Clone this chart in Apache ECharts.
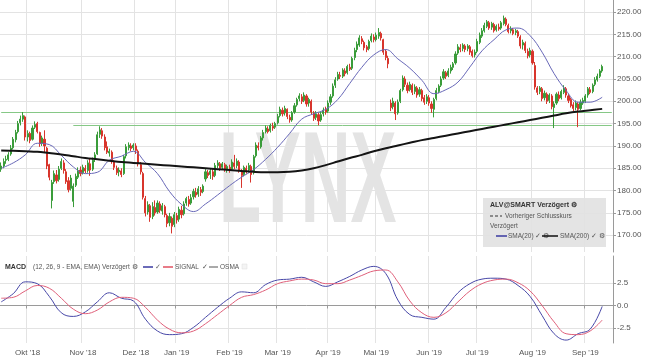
<!DOCTYPE html>
<html><head><meta charset="utf-8">
<script src="https://cdn.jsdelivr.net/npm/echarts@6/dist/echarts.min.js"></script>
<style>html,body{margin:0;padding:0;background:#fff}#c{width:645px;height:363px}</style>
</head><body><div id="c"></div>
<script>
// ---------- calendar ----------
const monthNames = ['Jan','Feb','Mar','Apr','Mai','Jun','Jul','Aug','Sep','Okt','Nov','Dez'];
const holidays = ['2018-12-24','2018-12-25','2018-12-26','2018-12-31','2019-01-01','2019-04-19','2019-04-22','2019-05-01'];
const firstDay = '2018-09-14';
const lastAxisDay = '2019-09-17';

// ---------- price data: [open, close, low, high] ----------
const sep18 = [[184.8,185.5,184.2,186.3],[185.5,186.5,185.0,187.2],[186.8,187.0,186.0,187.8],[187.0,188.0,186.6,188.6],[188.2,189.5,187.8,190.2],[189.6,191.5,189.2,192.0],[191.4,193.0,190.8,193.6],[193.2,195.0,192.8,195.6],[195.2,196.0,194.6,196.8],[196.0,196.8,195.4,197.6],[196.5,192.0,191.2,196.8]];
const okt18 = [[192.0,192.8,191.0,193.5],[192.8,191.2,190.6,193.2],[191.5,194.0,191.2,194.6],[194.2,194.8,193.8,195.5],[195.0,193.2,192.8,195.4],[193.0,190.5,189.8,193.2],[190.6,191.8,190.0,192.3],[191.5,190.0,188.4,193.5],[189.5,185.5,184.8,189.8],[185.8,183.0,182.3,186.0],[177.8,181.8,176.0,182.4],[182.0,183.8,181.5,184.5],[183.5,182.2,181.6,184.6],[182.5,184.8,182.0,185.5],[185.0,186.5,184.6,187.2],[186.2,184.5,183.8,186.8],[184.2,182.0,181.5,184.8],[182.2,180.2,179.6,183.0],[180.5,182.8,180.0,183.5],[177.6,181.0,176.3,181.6],[181.2,183.2,180.8,183.8],[183.0,184.5,182.6,185.2],[184.6,183.8,183.2,185.4]];
const nov18 = [[184.0,185.2,183.6,185.8],[185.0,184.4,183.9,185.7],[184.5,186.2,184.0,186.8],[186.0,184.6,183.3,187.2],[184.8,186.8,184.4,187.4],[187.0,188.0,186.4,188.6],[188.2,192.5,188.0,193.2],[192.6,193.6,191.8,194.4],[193.4,192.2,191.6,194.0],[192.0,189.6,189.0,192.6],[189.8,188.6,188.2,191.0],[188.4,188.8,187.6,189.4],[188.6,186.6,186.0,189.0],[186.4,185.2,184.6,186.8],[185.0,184.0,183.5,185.6],[184.2,184.6,183.2,185.2],[184.4,183.6,183.0,185.0],[183.8,187.6,183.5,188.0],[187.8,189.8,187.2,190.4],[189.6,190.2,189.0,190.8],[190.0,189.4,188.8,190.6],[189.6,190.2,189.0,190.6]];
const dez18 = [[190.0,189.0,188.2,190.6],[188.8,186.0,185.4,189.2],[185.8,184.2,183.6,186.4],[183.8,178.5,178.0,184.2],[178.2,175.0,174.2,178.8],[175.2,176.8,174.6,177.6],[176.6,174.0,173.0,177.0],[174.2,176.4,173.6,177.4],[176.2,175.0,174.4,177.8],[175.2,177.2,174.8,177.8],[177.0,175.6,175.0,177.6],[175.4,176.6,174.6,177.2],[176.4,174.6,174.0,176.8],[174.4,172.6,171.8,174.8],[172.8,174.2,172.0,175.0],[173.8,172.0,170.4,174.2],[172.4,174.6,171.8,175.2]];
const jan19 = [[174.4,173.4,172.6,175.0],[173.6,175.8,173.0,176.4],[175.6,174.6,173.8,176.6],[174.8,177.0,174.4,177.6],[177.2,178.2,176.6,178.6],[178.0,177.0,176.4,178.8],[177.2,178.4,176.8,179.2],[178.6,179.8,178.0,180.4],[179.6,179.0,178.4,180.6],[179.2,180.4,178.6,181.0],[180.2,179.6,178.8,180.8],[179.8,181.0,179.4,181.4],[182.6,184.2,182.0,184.8],[184.0,183.4,182.8,184.6],[183.6,184.4,182.6,185.0],[184.2,183.2,182.4,184.8],[183.4,185.6,183.0,186.2],[185.6,186.2,185.0,186.8],[186.0,185.0,184.4,186.4],[185.2,186.0,184.8,186.4],[185.8,184.8,184.2,186.2],[184.6,185.4,184.0,185.8]];
const feb19 = [[185.2,184.6,184.0,185.8],[184.8,186.4,184.4,187.0],[186.2,185.4,184.8,188.0],[185.6,186.6,185.0,187.2],[186.4,184.6,184.0,186.8],[184.4,183.4,180.6,184.8],[183.6,185.2,183.2,185.6],[185.0,184.4,183.8,185.6],[184.6,185.6,184.0,186.2],[185.4,183.6,181.8,185.8],[184.0,187.6,183.6,188.0],[187.8,190.2,187.4,190.8],[190.0,189.6,189.0,190.8],[189.8,191.8,189.4,192.2],[191.8,193.0,191.2,193.6],[193.2,194.0,192.8,194.6],[193.8,193.2,192.8,194.4],[193.4,194.6,193.0,195.0],[194.4,194.0,193.4,195.2],[194.2,195.0,193.8,195.4]];
const mar19 = [[195.2,196.6,194.8,197.2],[196.8,198.2,196.4,198.8],[198.0,197.2,196.6,198.6],[197.4,198.4,196.8,199.0],[198.2,196.6,196.0,198.4],[196.4,195.8,195.2,197.0],[195.8,197.4,195.4,197.8],[197.6,199.0,197.2,199.6],[199.2,200.4,198.8,200.8],[200.6,201.2,200.0,201.8],[201.0,200.0,199.4,201.6],[200.2,201.4,199.8,202.0],[201.2,199.4,198.8,201.6],[199.6,200.4,198.8,200.8],[200.0,197.6,197.0,200.4],[197.4,196.2,195.6,197.8],[196.4,197.2,195.8,197.8],[197.0,195.6,194.6,197.4],[195.8,197.0,195.4,197.6],[197.2,198.0,196.6,198.6],[198.2,197.6,197.0,198.8]];
const apr19 = [[197.8,199.6,197.4,200.2],[199.8,201.0,199.2,201.6],[201.2,203.4,200.8,204.0],[203.6,204.8,203.0,205.4],[205.0,206.0,204.6,206.6],[205.8,205.6,205.0,206.6],[205.6,207.0,205.2,207.4],[206.8,206.2,205.6,207.4],[206.4,207.8,206.0,208.2],[207.6,207.2,206.8,208.4],[207.4,209.6,207.0,210.0],[209.8,211.4,209.2,212.0],[211.6,212.8,211.0,213.4],[212.6,214.2,212.2,214.8],[214.0,213.4,212.8,214.6],[213.2,212.0,211.4,213.6],[212.2,211.6,211.0,212.6],[211.8,213.4,211.4,213.8],[213.6,214.6,213.2,215.2],[214.4,213.8,213.2,215.0]];
const mai19 = [[213.8,214.8,213.4,215.4],[214.6,215.4,214.0,216.4],[215.2,214.2,213.6,215.6],[213.8,211.0,210.4,214.0],[211.2,209.8,209.2,211.6],[209.6,208.4,207.4,210.2],[199.6,198.6,197.8,200.4],[198.8,200.0,198.2,200.8],[199.6,197.2,195.8,200.0],[197.4,199.8,197.0,200.4],[200.0,202.4,199.6,202.8],[202.6,205.2,202.2,205.8],[205.0,203.8,203.2,205.6],[203.6,202.4,201.8,204.2],[202.6,203.8,202.2,204.4],[203.6,202.0,201.4,204.0],[202.2,203.2,201.6,203.8],[203.0,201.4,200.8,203.4],[201.6,202.6,201.0,203.2],[202.4,200.6,200.0,202.8],[200.8,199.8,199.2,201.4],[200.0,201.0,199.4,201.6]];
const jun19 = [[200.8,199.6,199.0,201.4],[199.4,198.4,197.4,200.0],[198.2,200.4,196.4,200.8],[200.6,202.4,200.2,203.0],[202.2,203.4,201.8,203.8],[203.6,205.0,203.2,205.6],[205.2,206.6,204.8,207.2],[206.4,205.6,205.0,206.8],[205.8,206.8,205.4,207.4],[206.8,207.6,206.2,208.2],[207.6,208.4,207.0,208.8],[208.6,210.6,208.2,211.2],[210.8,212.2,210.4,212.8],[212.0,211.6,211.0,212.8],[211.8,212.6,211.2,213.0],[212.4,211.6,211.0,212.8],[211.8,212.4,211.2,212.8],[212.2,211.0,210.4,212.6],[211.2,210.2,209.8,211.6],[210.4,211.0,209.8,211.6]];
const jul19 = [[211.2,213.4,210.8,214.0],[213.2,214.8,212.8,215.4],[214.6,215.8,214.2,216.4],[215.8,217.0,215.4,217.6],[216.8,217.8,216.4,218.2],[217.6,216.4,216.0,218.0],[216.6,217.4,216.0,217.8],[217.2,215.8,215.4,217.6],[216.0,216.8,215.6,217.2],[216.6,216.2,215.8,217.4],[216.4,217.6,216.0,218.0],[217.4,218.6,217.0,219.2],[218.4,217.2,216.8,218.8],[217.0,215.6,215.2,217.4],[215.8,216.2,215.2,216.8],[216.0,215.2,214.8,216.4],[215.4,215.8,214.8,216.2],[215.6,214.6,214.2,216.0],[214.4,212.4,211.8,214.8],[212.6,213.2,211.6,213.8],[213.0,211.4,210.8,213.4],[211.2,210.2,209.6,211.8],[210.4,211.4,209.8,212.0]];
const aug19 = [[211.2,208.6,208.2,211.6],[208.0,203.2,202.6,208.8],[203.0,202.0,201.4,203.4],[202.2,203.0,201.6,203.4],[202.8,200.6,200.0,203.2],[200.8,201.8,200.2,202.4],[201.6,200.0,199.4,202.0],[200.2,201.4,199.6,201.8],[201.2,198.8,198.2,201.6],[198.6,199.4,194.0,200.0],[199.6,201.6,199.2,202.0],[201.4,200.6,200.0,202.2],[200.8,202.2,200.4,202.6],[202.0,203.0,201.6,203.6],[202.8,201.4,200.8,203.2],[201.2,200.2,199.6,201.6],[200.4,199.0,198.6,200.8],[199.2,198.4,197.8,199.8],[198.6,199.6,198.0,200.2],[199.4,198.2,194.2,199.8],[198.4,199.8,198.0,200.4],[199.6,200.2,199.2,200.8]];
const sep19 = [[200.0,201.2,199.6,201.6],[201.4,202.8,200.8,203.2],[202.6,202.0,201.6,203.2],[202.2,203.6,201.8,204.0],[203.8,204.8,203.4,205.4],[204.8,205.6,204.4,206.2],[205.6,206.8,205.2,207.2],[206.8,207.8,206.4,208.2]];

// ---------- indicators, one value every 5 trading days ----------
const sampleStep = 5;
const sma20 = [185.0,186.2,188.0,190.6,190.3,187.9,185.3,183.8,184.1,186.8,187.7,188.8,186.3,183.8,179.8,176.9,175.3,177.0,179.0,181.1,183.0,184.7,187.0,189.7,192.8,196.0,197.2,198.2,200.4,204.0,207.6,210.4,211.6,209.5,207.4,204.7,201.7,202.6,204.3,207.7,211.3,213.8,216.0,216.4,214.7,211.0,206.2,202.4,199.8,199.8,200.9];
const sma200 = [189.0,188.9,188.8,188.7,188.4,188.1,187.7,187.3,187.0,186.7,186.4,186.2,186.0,185.8,185.6,185.4,185.2,185.0,184.8,184.6,184.4,184.2,184.1,184.1,184.2,184.5,185.0,185.7,186.5,187.3,188.0,188.8,189.5,190.1,190.7,191.3,191.8,192.3,192.8,193.3,193.8,194.3,194.8,195.3,195.8,196.3,196.8,197.3,197.7,198.0,198.3];
const macd = [0.4,1.3,2.6,2.4,1.0,-0.8,-1.2,-0.7,0.4,1.4,0.8,0.5,-1.5,-2.8,-3.2,-3.1,-2.4,-1.3,-0.2,0.8,1.5,1.4,2.3,2.8,2.9,3.1,2.6,2.1,2.6,3.2,3.9,4.3,3.5,0.6,-1.0,-1.3,-1.5,-0.2,1.4,2.4,2.9,3.0,2.9,2.2,1.0,-1.1,-3.1,-3.8,-3.1,-2.6,-0.1];
const signal = [0.8,0.9,1.6,2.2,1.9,0.8,-0.4,-0.9,-0.5,0.4,0.9,0.8,-0.2,-1.6,-2.6,-3.0,-2.8,-2.0,-1.0,0.0,0.9,1.2,1.7,2.4,2.7,2.9,2.8,2.4,2.4,2.8,3.3,3.8,3.9,2.6,0.5,-0.8,-1.3,-0.8,0.4,1.6,2.4,2.8,2.9,2.5,1.6,0.0,-1.8,-3.1,-3.2,-2.8,-1.6];

// horizontal support lines [price, start date]
const supportLines = [[197.55,'2018-09-14'],[194.55,'2018-10-26']];
const priceTicks = [170,175,180,185,190,195,200,205,210,215,220];
const macdTicks = [-2.5,0,2.5];

// ---------- build ----------
const dates = [];
(function(){
  const d = new Date(firstDay+'T00:00:00Z'), end = new Date(lastAxisDay+'T00:00:00Z');
  while (d <= end) {
    const wd = d.getUTCDay(), s = d.toISOString().slice(0,10);
    if (wd !== 0 && wd !== 6 && holidays.indexOf(s) < 0) dates.push(s);
    d.setUTCDate(d.getUTCDate()+1);
  }
})();
const isMonthStart = dates.map((s,i)=> i>0 && s.slice(0,7)!==dates[i-1].slice(0,7));
const ohlc = [].concat(sep18,okt18,nov18,dez18,jan19,feb19,mar19,apr19,mai19,jun19,jul19,aug19,sep19);
const sampled = arr => arr.map((v,k)=>[k*sampleStep, v]);
const lastCat = dates[dates.length-1];

const GRID = '#e3e3e3', TXT = '#555', AX = '#9a9a9a';
const FONT = 'Liberation Sans, Arial, sans-serif';
const monthFilter = (idx) => isMonthStart[idx];

const chart = echarts.init(document.getElementById('c'), null, {renderer:'canvas'});
chart.setOption({
  animation:false,
  backgroundColor:'#fff',
  textStyle:{fontFamily:FONT},
  grid:[
    {left:0,right:32,top:0,height:252},
    {left:0,right:32,top:256,height:87}
  ],
  xAxis:[
    {type:'category',gridIndex:0,data:dates,boundaryGap:true,
     axisLine:{show:false},axisTick:{show:false},axisLabel:{show:false},
     splitLine:{show:true,interval:monthFilter,lineStyle:{color:GRID,width:1}}},
    {type:'category',gridIndex:1,data:dates,boundaryGap:true,
     axisLine:{show:true,lineStyle:{color:AX}},
     axisTick:{show:true,interval:monthFilter,length:3,lineStyle:{color:AX}},
     axisLabel:{show:true,interval:monthFilter,fontSize:8,color:TXT,margin:6,fontFamily:FONT,
       formatter:v=> monthNames[+v.slice(5,7)-1]+" '"+v.slice(2,4)},
     splitLine:{show:true,interval:monthFilter,lineStyle:{color:GRID,width:1}}}
  ],
  yAxis:[
    {type:'value',gridIndex:0,position:'right',min:166.24,max:222.69,scale:true,
     axisLine:{show:true,lineStyle:{color:AX}},
     axisTick:{show:true,length:3,customValues:priceTicks,lineStyle:{color:AX}},
     axisLabel:{show:true,customValues:priceTicks,fontSize:8,color:TXT,margin:4,fontFamily:FONT,formatter:v=>v.toFixed(2)},
     splitLine:{show:true,lineStyle:{color:GRID,width:1}}},
    {type:'value',gridIndex:1,position:'right',min:-4.12,max:5.44,
     axisLine:{show:true,lineStyle:{color:AX}},
     axisTick:{show:true,length:3,customValues:macdTicks,lineStyle:{color:AX}},
     axisLabel:{show:true,customValues:macdTicks,fontSize:8,color:TXT,margin:4,fontFamily:FONT,formatter:v=>v.toFixed(1)},
     splitLine:{show:true,lineStyle:{color:GRID,width:1}}}
  ],
  graphic:[
    {type:'text',z:1,x:219,y:186,scaleX:0.53,
     style:{text:'LYNX',font:'bold 130px "Liberation Sans", Arial',fill:'#e4e4e4',verticalAlign:'middle'}},
    {type:'rect',z:50,shape:{x:483,y:198,width:123,height:49},style:{fill:'rgba(225,225,225,0.9)'}},
    {type:'text',z:51,x:490,y:205,style:{text:'ALV@SMART Verzögert ⚙',font:'bold 7px "Liberation Sans", Arial',fill:'#333',verticalAlign:'middle'}},
    {type:'line',z:51,shape:{x1:490,y1:216,x2:502,y2:216},style:{stroke:'#333',lineWidth:1,lineDash:[3,2]}},
    {type:'text',z:51,x:505,y:216,style:{text:'Vorheriger Schlusskurs',font:'6.5px "Liberation Sans", Arial',fill:'#555',verticalAlign:'middle'}},
    {type:'text',z:51,x:490,y:226,style:{text:'Verzögert',font:'6.5px "Liberation Sans", Arial',fill:'#555',verticalAlign:'middle'}},
    {type:'line',z:51,shape:{x1:496,y1:236,x2:507,y2:236},style:{stroke:'#3a3aa0',lineWidth:1.5}},
    {type:'text',z:51,x:508,y:236,style:{text:'SMA(20) ✓ ⚙',font:'6.5px "Liberation Sans", Arial',fill:'#555',verticalAlign:'middle'}},
    {type:'line',z:51,shape:{x1:542,y1:236,x2:558,y2:236},style:{stroke:'#111',lineWidth:1.5}},
    {type:'text',z:51,x:560,y:236,style:{text:'SMA(200) ✓ ⚙',font:'6.5px "Liberation Sans", Arial',fill:'#555',verticalAlign:'middle'}},
    {type:'text',z:51,x:5,y:267,style:{text:'MACD',font:'bold 7px "Liberation Sans", Arial',fill:'#333',verticalAlign:'middle'}},
    {type:'text',z:51,x:33,y:267,style:{text:'(12, 26, 9 - EMA, EMA) Verzögert ⚙',font:'6.5px "Liberation Sans", Arial',fill:'#555',verticalAlign:'middle'}},
    {type:'line',z:51,shape:{x1:143,y1:267,x2:153,y2:267},style:{stroke:'#3a3aa0',lineWidth:1.5}},
    {type:'text',z:51,x:155,y:267,style:{text:'✓',font:'6.5px "Liberation Sans", Arial',fill:'#666',verticalAlign:'middle'}},
    {type:'line',z:51,shape:{x1:163,y1:267,x2:173,y2:267},style:{stroke:'#e05060',lineWidth:1.5}},
    {type:'text',z:51,x:175,y:267,style:{text:'SIGNAL  ✓',font:'6.5px "Liberation Sans", Arial',fill:'#555',verticalAlign:'middle'}},
    {type:'line',z:51,shape:{x1:209,y1:267,x2:218,y2:267},style:{stroke:'#555',lineWidth:1}},
    {type:'text',z:51,x:220,y:267,style:{text:'OSMA',font:'6.5px "Liberation Sans", Arial',fill:'#555',verticalAlign:'middle'}},
    {type:'rect',z:51,shape:{x:242,y:264,width:5,height:5},style:{fill:'#f4f4f4',stroke:'#ddd',lineWidth:0.5}}
  ],
  series:[
    {type:'candlestick',xAxisIndex:0,yAxisIndex:0,data:ohlc,barWidth:1.6,z:5,
     itemStyle:{color:'#3a9c3a',color0:'#d8352c',borderColor:'#3a9c3a',borderColor0:'#d8352c',borderWidth:1},
     markLine:{silent:true,symbol:['none','none'],label:{show:false},animation:false,
       lineStyle:{color:'#86c886',type:'solid',width:1},
       data: supportLines.map(s=>[{coord:[s[1],s[0]]},{coord:[lastCat,s[0]]}])}},
    {type:'line',xAxisIndex:0,yAxisIndex:0,data:sampled(sma20),showSymbol:false,symbol:'none',smooth:0.4,z:6,
     lineStyle:{color:'#6868b8',width:1}},
    {type:'line',xAxisIndex:0,yAxisIndex:0,data:sampled(sma200),showSymbol:false,symbol:'none',smooth:0.4,z:6,
     lineStyle:{color:'#141414',width:2}},
    {type:'line',xAxisIndex:1,yAxisIndex:1,data:sampled(macd),showSymbol:false,symbol:'none',smooth:0.4,z:6,
     lineStyle:{color:'#4848a8',width:1}},
    {type:'line',xAxisIndex:1,yAxisIndex:1,data:sampled(signal),showSymbol:false,symbol:'none',smooth:0.4,z:6,
     lineStyle:{color:'#e0607a',width:1}}
  ]
});
</script></body></html>
